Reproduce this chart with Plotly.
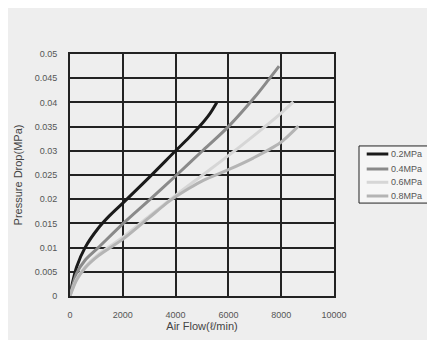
import plotly.graph_objects as go

x_02 = [0, 90, 250, 570, 1070, 1500, 2020, 3000, 4000, 4500, 4900, 5300, 5560]
y_02 = [0, 0.0026, 0.0060, 0.0100, 0.0140, 0.0166, 0.0193, 0.0245, 0.0300, 0.0327, 0.0350, 0.0377, 0.0400]

x_04 = [0, 250, 570, 1070, 2020, 3000, 4040, 5000, 6000, 7000, 7510, 7920]
y_04 = [0, 0.0047, 0.0074, 0.0100, 0.015, 0.0198, 0.025, 0.0299, 0.035, 0.0411, 0.0446, 0.0475]

x_06 = [0, 250, 570, 1070, 2020, 3000, 4000, 5000, 6000, 7000, 8000, 8460]
y_06 = [0, 0.0035, 0.006, 0.0086, 0.0122, 0.0165, 0.0208, 0.0249, 0.029, 0.0333, 0.0378, 0.0401]

x_08 = [0, 250, 570, 1070, 2020, 3000, 3790, 4500, 5050, 6000, 6940, 7950, 8650]
y_08 = [0, 0.0033, 0.0058, 0.0083, 0.0118, 0.0162, 0.0197, 0.0222, 0.0239, 0.0261, 0.0285, 0.0316, 0.0351]

names = ["0.2MPa", "0.4MPa", "0.6MPa", "0.8MPa"]
colors = ["#1a1a1a", "#8a8a8a", "#d6d6d6", "#b4b4b4"]
series = [(x_02, y_02), (x_04, y_04), (x_06, y_06), (x_08, y_08)]

x_ticks = [0, 2000, 4000, 6000, 8000, 10000]
y_ticks = [0, 0.005, 0.01, 0.015, 0.02, 0.025, 0.03, 0.035, 0.04, 0.045, 0.05]
y_ticktext = ["0", "0.005", "0.01", "0.015", "0.02", "0.025", "0.03", "0.035", "0.04", "0.045", "0.05"]

fig = go.Figure()
for (xs, ys), n, c in zip(series, names, colors):
    fig.add_trace(go.Scatter(x=xs, y=ys, mode="lines", name=n, showlegend=False,
                             line=dict(color=c, width=3, shape="spline", smoothing=0.8)))

# manual legend (paper coordinates)
fig.add_shape(type="rect", xref="paper", yref="paper", x0=1.0947, x1=1.356, y0=0.384, y1=0.620,
              line=dict(color="#222222", width=1), fillcolor="#f6f6f6", layer="above")
leg_y = [0.5868, 0.5248, 0.4698, 0.4132]
for n, c, ly in zip(names, colors, leg_y):
    fig.add_shape(type="line", xref="paper", yref="paper", x0=1.1239, x1=1.2057, y0=ly, y1=ly,
                  line=dict(color=c, width=3), layer="above")
    fig.add_annotation(xref="paper", yref="paper", x=1.2102, y=ly, text=n, showarrow=False,
                       xanchor="left", yanchor="middle", font=dict(size=9, color="#555555"))

bg = "#eeeeee"
font = "Liberation Sans, DejaVu Sans, sans-serif"
fig.update_layout(
    width=435, height=340,
    margin=dict(l=62, r=109, t=46, b=52),
    paper_bgcolor=bg, plot_bgcolor=bg,
    font=dict(family=font, size=9, color="#555555"),
    showlegend=False,
    xaxis=dict(range=[0, 10000], tickvals=x_ticks, ticktext=[str(v) for v in x_ticks],
               showgrid=True, gridcolor="#222222", gridwidth=2,
               showline=True, linecolor="#222222", linewidth=2, mirror=True,
               zeroline=False, ticks="", ticklabelstandoff=9, automargin=False,
               title=dict(text="Air Flow(ℓ/min)", font=dict(size=11, color="#444444"), standoff=3)),
    yaxis=dict(range=[0, 0.05], tickvals=y_ticks, ticktext=y_ticktext,
               showgrid=True, gridcolor="#222222", gridwidth=2,
               showline=True, linecolor="#222222", linewidth=2, mirror=True,
               zeroline=False, ticks="", ticklabelstandoff=9, automargin=False,
               title=dict(text="Pressure Drop(MPa)", font=dict(size=11, color="#444444"), standoff=10)),
)

fig.write_html("out.html")
